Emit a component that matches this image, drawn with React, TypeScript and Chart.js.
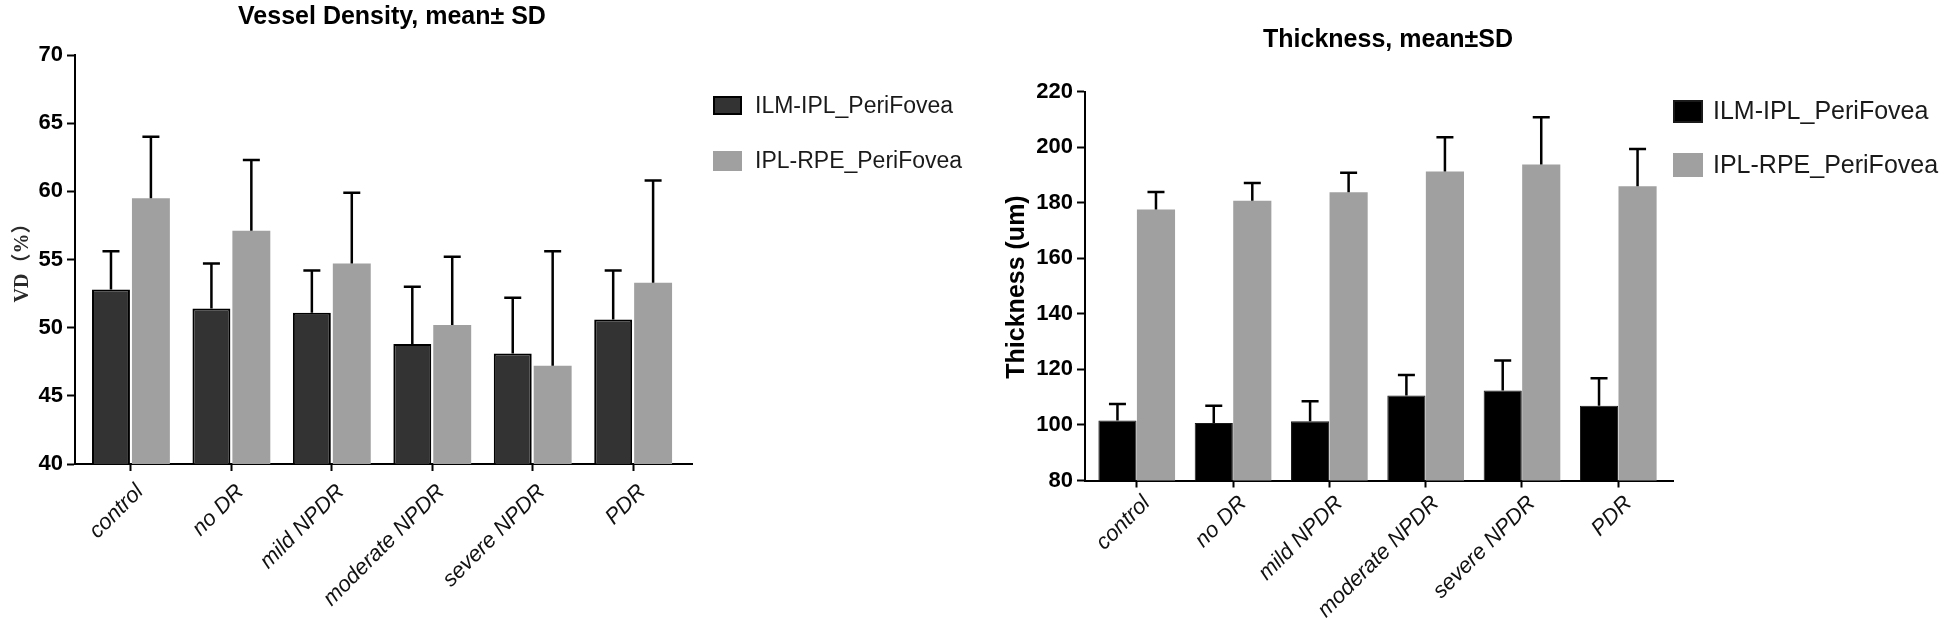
import React, { useEffect, useRef } from "react";
import { Chart, registerables } from "chart.js";

Chart.register(...registerables);

// ---------- data ----------
const categories = ["control", "no DR", "mild NPDR", "moderate NPDR", "severe NPDR", "PDR"];
const seriesNames = ["ILM-IPL_PeriFovea", "IPL-RPE_PeriFovea"];

// Vessel density (%), mean and SD
const vdIlmMean = [52.8, 51.4, 51.1, 48.8, 48.1, 50.6];
const vdIlmSD = [2.8, 3.3, 3.1, 4.2, 4.1, 3.6];
const vdIplMean = [59.5, 57.1, 54.7, 50.2, 47.2, 53.3];
const vdIplSD = [4.5, 5.2, 5.2, 5.0, 8.4, 7.5];
const vdTicks = [40, 45, 50, 55, 60, 65, 70];

// Thickness (um), mean and SD
const thIlmMean = [101.6, 100.7, 101.3, 110.6, 112.4, 106.9];
const thIlmSD = [5.9, 6.2, 7.2, 7.4, 10.8, 9.9];
const thIplMean = [177.5, 180.7, 183.7, 191.2, 193.7, 185.9];
const thIplSD = [6.3, 6.4, 7.1, 12.3, 17.0, 13.4];
const thTicks = [80, 100, 120, 140, 160, 180, 200, 220];

const SANS = "'Liberation Sans', Arial, Helvetica, sans-serif";

type Spec = {
  width: number;
  height: number;
  left: number;
  title: string;
  titleX: number;
  titleY: number;
  yTitle: string;
  yTitleX: number;
  yTitleY: number;
  yTitleFont: string;
  yTitleColor: string;
  darkFill: string;
  darkBorder: string;
  darkBorderWidth: number;
  lightFill: string;
  means: number[][];
  sds: number[][];
  ticks: number[];
  yWidth: number;
  xHeight: number;
  padding: { left: number; right: number; top: number; bottom: number };
  xMin: number;
  xMax: number;
  catPct: number;
  barPct: number;
  cap: number;
  errWidth: number;
  legendFont: string;
  legendBoxes: { x: number; y: number; w: number; h: number }[];
  legendTextX: number;
  xLabelOffset: number;
  xLabelPadding: number;
};

function makeErrorPlugin(spec: Spec) {
  return {
    id: "errorBars",
    afterDatasetsDraw(chart: any) {
      const ctx = chart.ctx;
      const ys = chart.scales.y;
      chart.data.datasets.forEach((_ds: any, di: number) => {
        const meta = chart.getDatasetMeta(di);
        meta.data.forEach((el: any, i: number) => {
          const top = ys.getPixelForValue(spec.means[di][i] + spec.sds[di][i]);
          ctx.save();
          ctx.strokeStyle = "#000";
          ctx.lineWidth = spec.errWidth;
          ctx.lineCap = "butt";
          ctx.beginPath();
          ctx.moveTo(el.x, el.y);
          ctx.lineTo(el.x, top);
          ctx.moveTo(el.x - spec.cap / 2, top);
          ctx.lineTo(el.x + spec.cap / 2, top);
          ctx.stroke();
          ctx.restore();
        });
      });
    },
  };
}

function makeDecorPlugin(spec: Spec) {
  return {
    id: "decor",
    afterDraw(chart: any) {
      const ctx = chart.ctx;
      ctx.save();
      ctx.fillStyle = "#000";
      ctx.font = `bold 25px ${SANS}`;
      ctx.textAlign = "center";
      ctx.textBaseline = "alphabetic";
      ctx.fillText(spec.title, spec.titleX, spec.titleY);

      ctx.save();
      ctx.translate(spec.yTitleX, spec.yTitleY);
      ctx.rotate(-Math.PI / 2);
      ctx.font = spec.yTitleFont;
      ctx.fillStyle = spec.yTitleColor;
      ctx.textAlign = "center";
      ctx.textBaseline = "middle";
      ctx.fillText(spec.yTitle, 0, 0);
      ctx.restore();

      spec.legendBoxes.forEach((b, i) => {
        const ds = chart.data.datasets[i];
        ctx.fillStyle = ds.backgroundColor;
        ctx.fillRect(b.x, b.y, b.w, b.h);
        if (ds.borderWidth) {
          ctx.strokeStyle = ds.borderColor;
          ctx.lineWidth = 2;
          ctx.strokeRect(b.x + 1, b.y + 1, b.w - 2, b.h - 2);
        }
        ctx.fillStyle = "#1a1a1a";
        ctx.font = spec.legendFont;
        ctx.textAlign = "left";
        ctx.textBaseline = "middle";
        ctx.fillText(seriesNames[i], spec.legendTextX, b.y + b.h / 2 + 1);
      });
      ctx.restore();
    },
  };
}

function makeConfig(spec: Spec): any {
  const datasets = spec.means.map((m, di) => ({
    label: seriesNames[di],
    data: m.map((v, i) => ({ x: i, y: v })),
    backgroundColor: di === 0 ? spec.darkFill : spec.lightFill,
    borderColor: di === 0 ? spec.darkBorder : spec.lightFill,
    borderWidth: di === 0 ? spec.darkBorderWidth : 0,
    categoryPercentage: spec.catPct,
    barPercentage: spec.barPct,
  }));
  return {
    type: "bar",
    data: { datasets },
    options: {
      animation: false,
      responsive: false,
      events: [],
      layout: { padding: spec.padding },
      plugins: {
        legend: { display: false },
        title: { display: false },
        tooltip: { enabled: false },
      },
      scales: {
        x: {
          type: "linear",
          min: spec.xMin,
          max: spec.xMax,
          offset: false,
          afterBuildTicks: (s: any) => {
            s.ticks = categories.map((_c, i) => ({ value: i }));
          },
          afterFit: (s: any) => {
            s.height = spec.xHeight;
          },
          ticks: {
            autoSkip: false,
            minRotation: 45,
            maxRotation: 45,
            padding: spec.xLabelPadding,
            labelOffset: spec.xLabelOffset,
            color: "#111",
            font: { family: SANS, size: 22, style: "italic" },
            callback: (v: any) => categories[Math.round(Number(v))] ?? "",
          },
          grid: {
            drawOnChartArea: false,
            drawTicks: true,
            tickLength: 7,
            tickColor: "#000",
            tickWidth: 2,
            offset: false,
          },
          border: { display: true, color: "#000", width: 2 },
        },
        y: {
          type: "linear",
          min: spec.ticks[0],
          max: spec.ticks[spec.ticks.length - 1],
          afterBuildTicks: (s: any) => {
            s.ticks = spec.ticks.map((v) => ({ value: v }));
          },
          afterFit: (s: any) => {
            s.width = spec.yWidth;
          },
          ticks: {
            padding: 4,
            color: "#000",
            font: { family: SANS, size: 22, weight: "bold" },
          },
          grid: {
            drawOnChartArea: false,
            drawTicks: true,
            tickLength: 8,
            tickColor: "#000",
            tickWidth: 2,
          },
          border: { display: true, color: "#000", width: 2 },
        },
      },
    },
    plugins: [makeErrorPlugin(spec), makeDecorPlugin(spec)],
  };
}

const leftSpec: Spec = {
  width: 980,
  height: 631,
  left: 0,
  title: "Vessel Density, mean\u00b1 SD",
  titleX: 392,
  titleY: 24,
  yTitle: "VD\uff08%\uff09",
  yTitleX: 23,
  yTitleY: 258,
  yTitleFont: "bold 20px 'Liberation Serif', 'Times New Roman', 'Noto Sans CJK SC', serif",
  yTitleColor: "#2a2a2a",
  darkFill: "#333333",
  darkBorder: "#000",
  darkBorderWidth: 2,
  lightFill: "#a0a0a0",
  means: [vdIlmMean, vdIplMean],
  sds: [vdIlmSD, vdIplSD],
  ticks: vdTicks,
  yWidth: 75,
  xHeight: 167,
  padding: { left: 0, right: 288, top: 55, bottom: 0 },
  xMin: -0.557,
  xMax: 5.586,
  catPct: 0.795,
  barPct: 0.95,
  cap: 17,
  errWidth: 2.5,
  legendFont: `23px ${SANS}`,
  legendBoxes: [
    { x: 713, y: 96, w: 29, h: 19 },
    { x: 713, y: 151, w: 29, h: 20 },
  ],
  legendTextX: 755,
  xLabelOffset: 9,
  xLabelPadding: 8,
};

const rightSpec: Spec = {
  width: 966,
  height: 631,
  left: 980,
  title: "Thickness, mean\u00b1SD",
  titleX: 408,
  titleY: 46.5,
  yTitle: "Thickness (um)",
  yTitleX: 37,
  yTitleY: 287,
  yTitleFont: `bold 25px ${SANS}`,
  yTitleColor: "#000",
  darkFill: "#000000",
  darkBorder: "#1a1a1a",
  darkBorderWidth: 1,
  lightFill: "#a0a0a0",
  means: [thIlmMean, thIplMean],
  sds: [thIlmSD, thIplSD],
  ticks: thTicks,
  yWidth: 105,
  xHeight: 150.5,
  padding: { left: 0, right: 273, top: 91.5, bottom: 0 },
  xMin: -0.537,
  xMax: 5.568,
  catPct: 0.8,
  barPct: 0.99,
  cap: 17,
  errWidth: 2.5,
  legendFont: `25px ${SANS}`,
  legendBoxes: [
    { x: 693, y: 100, w: 30, h: 23 },
    { x: 693, y: 153, w: 30, h: 24 },
  ],
  legendTextX: 733,
  xLabelOffset: 10,
  xLabelPadding: 3,
};

function BarChart({ spec }: { spec: Spec }) {
  const ref = useRef<HTMLCanvasElement | null>(null);
  useEffect(() => {
    if (!ref.current) return;
    const chart = new Chart(ref.current, makeConfig(spec));
    return () => chart.destroy();
  }, [spec]);
  return (
    <canvas
      ref={ref}
      width={spec.width}
      height={spec.height}
      style={{
        position: "absolute",
        left: spec.left,
        top: 0,
        width: spec.width,
        height: spec.height,
        display: "block",
      }}
    />
  );
}

export default function App() {
  return (
    <div
      style={{
        position: "absolute",
        left: 0,
        top: 0,
        width: 1946,
        height: 631,
        background: "#fff",
        overflow: "hidden",
      }}
    >
      <BarChart spec={leftSpec} />
      <BarChart spec={rightSpec} />
    </div>
  );
}
